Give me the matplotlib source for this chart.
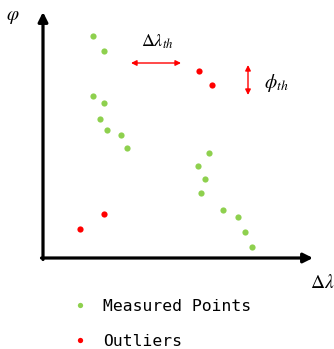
import matplotlib.pyplot as plt
from matplotlib.lines import Line2D

plt.rcParams['mathtext.fontset'] = 'stix'

# measured points (delta lambda, phi), arbitrary units
meas_x = [50, 61, 50, 61, 57, 64, 78, 84, 166, 155, 162, 158, 180, 195, 202, 209]
meas_y = [222, 207, 162, 155, 139, 128, 123, 110, 105, 92, 79, 65, 48, 41, 26, 11]
# outliers
out_x = [156, 169, 37, 61]
out_y = [187, 173, 29, 44]

green = '#8ed04e'
red = '#ff0000'

fig = plt.figure(figsize=(3.34, 3.49), dpi=100)
ax = fig.add_axes([0, 0, 1, 1])
ax.set_xlim(-43, 291)
ax.set_ylim(-91, 258)
ax.axis('off')

ax.scatter(meas_x, meas_y, s=20, color=green, linewidths=0, zorder=3)
ax.scatter(out_x, out_y, s=20, color=red, linewidths=0, zorder=3)

# axes with arrows
ax.annotate('', xy=(0, 246), xytext=(0, -1.5),
            arrowprops=dict(arrowstyle='-|>', color='black', lw=2.3,
                            mutation_scale=14, shrinkA=0, shrinkB=0))
ax.annotate('', xy=(270, 0), xytext=(-1.5, 0),
            arrowprops=dict(arrowstyle='-|>', color='black', lw=2.3,
                            mutation_scale=14, shrinkA=0, shrinkB=0))
ax.text(-30, 241, r'$\varphi$', fontsize=14, ha='center', va='center')
ax.text(279, -25, r'$\Delta\lambda$', fontsize=14, ha='center', va='center')

# threshold arrows
ax.annotate('', xy=(88, 195), xytext=(138, 195),
            arrowprops=dict(arrowstyle='<|-|>', color=red, lw=1,
                            mutation_scale=8, shrinkA=0, shrinkB=0))
ax.text(114, 216, r'$\Delta\lambda_{th}$', fontsize=13, ha='center', va='center')
ax.annotate('', xy=(205, 193), xytext=(205, 163),
            arrowprops=dict(arrowstyle='<|-|>', color=red, lw=1,
                            mutation_scale=8, shrinkA=0, shrinkB=0))
ax.text(233, 175, r'$\phi_{th}$', fontsize=14, ha='center', va='center')

handles = [Line2D([], [], ls='', marker='o', ms=3.8, mfc=green, mec='none'),
           Line2D([], [], ls='', marker='o', ms=3.8, mfc=red, mec='none')]
ax.legend(handles, ['Measured Points', 'Outliers'], loc='upper left',
          bbox_to_anchor=(0.189, 0.167), frameon=False,
          prop={'family': 'DejaVu Sans Mono', 'size': 11.8},
          handlelength=1, handletextpad=0.95, labelspacing=1.2, borderpad=0)

fig.savefig('out.png', dpi=100)
